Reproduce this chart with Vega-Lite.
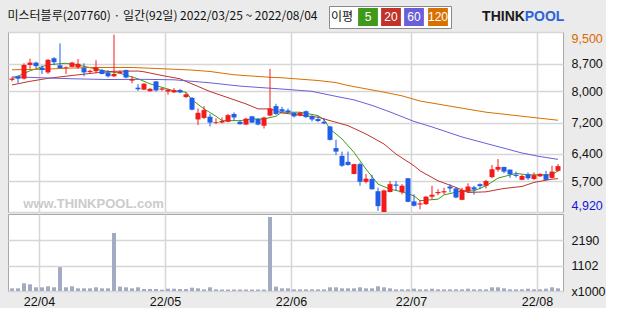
{
  "$schema": "https://vega.github.io/schema/vega-lite/v6.json",
  "background": "#ebebeb",
  "padding": {"left": 7, "top": 5, "right": 0, "bottom": 0},
  "title": {
    "text": "미스터블루(207760) · 일간(92일) 2022/03/25 ~ 2022/08/04",
    "anchor": "start",
    "font": "Noto Sans CJK KR",
    "fontSize": 12,
    "fontWeight": "normal",
    "color": "#111111",
    "offset": -18
  },
  "config": {
    "view": {"fill": "white", "stroke": "#a8a8a8", "strokeWidth": 1},
    "axis": {
      "labelFont": "Liberation Sans",
      "labelFontSize": 12.5,
      "labelColor": "#111111",
      "gridColor": "#d6d6d6",
      "gridWidth": 1.5,
      "ticks": false,
      "domain": false
    }
  },
  "resolve": {"scale": {"color": "independent"}},
  "spacing": 0,
  "datasets": {
    "candles": [
      {"i":0,"d":"03-25","o":8290,"h":8360,"l":8250,"c":8320,"v":116},
      {"i":1,"d":"03-28","o":8380,"h":8390,"l":8210,"c":8320,"v":116},
      {"i":2,"d":"03-29","o":8320,"h":8710,"l":8300,"c":8670,"v":333},
      {"i":3,"d":"03-30","o":8670,"h":8830,"l":8570,"c":8730,"v":290},
      {"i":4,"d":"03-31","o":8730,"h":8750,"l":8590,"c":8640,"v":160},
      {"i":5,"d":"04-01","o":8600,"h":8660,"l":8440,"c":8540,"v":160},
      {"i":6,"d":"04-04","o":8480,"h":8820,"l":8440,"c":8800,"v":203},
      {"i":7,"d":"04-05","o":8840,"h":8870,"l":8670,"c":8740,"v":160},
      {"i":8,"d":"04-06","o":8660,"h":9220,"l":8580,"c":8590,"v":1030},
      {"i":9,"d":"04-07","o":8590,"h":8630,"l":8440,"c":8610,"v":160},
      {"i":10,"d":"04-08","o":8620,"h":8750,"l":8610,"c":8730,"v":203},
      {"i":11,"d":"04-11","o":8610,"h":8820,"l":8570,"c":8700,"v":116},
      {"i":12,"d":"04-12","o":8590,"h":8710,"l":8380,"c":8480,"v":116},
      {"i":13,"d":"04-13","o":8490,"h":8550,"l":8460,"c":8520,"v":116},
      {"i":14,"d":"04-14","o":8510,"h":8790,"l":8460,"c":8610,"v":160},
      {"i":15,"d":"04-15","o":8540,"h":8570,"l":8430,"c":8440,"v":116},
      {"i":16,"d":"04-18","o":8480,"h":8540,"l":8350,"c":8380,"v":116},
      {"i":17,"d":"04-19","o":8380,"h":9440,"l":8360,"c":8440,"v":2510},
      {"i":18,"d":"04-20","o":8460,"h":8530,"l":8450,"c":8490,"v":190},
      {"i":19,"d":"04-21","o":8540,"h":8550,"l":8330,"c":8350,"v":160},
      {"i":20,"d":"04-22","o":8270,"h":8380,"l":8200,"c":8310,"v":116},
      {"i":21,"d":"04-25","o":8090,"h":8180,"l":8010,"c":8050,"v":160},
      {"i":22,"d":"04-26","o":8040,"h":8210,"l":8030,"c":8190,"v":87},
      {"i":23,"d":"04-27","o":8000,"h":8080,"l":7990,"c":8060,"v":87},
      {"i":24,"d":"04-28","o":8250,"h":8260,"l":7990,"c":8020,"v":87},
      {"i":25,"d":"04-29","o":8040,"h":8090,"l":8010,"c":8070,"v":58},
      {"i":26,"d":"05-02","o":7990,"h":8060,"l":7910,"c":8040,"v":100},
      {"i":27,"d":"05-03","o":7970,"h":8080,"l":7960,"c":8030,"v":100},
      {"i":28,"d":"05-04","o":8030,"h":8060,"l":7950,"c":7970,"v":87},
      {"i":29,"d":"05-06","o":7850,"h":7970,"l":7830,"c":7920,"v":87},
      {"i":30,"d":"05-09","o":7830,"h":7850,"l":7510,"c":7530,"v":145},
      {"i":31,"d":"05-10","o":7280,"h":7560,"l":7140,"c":7450,"v":116},
      {"i":32,"d":"05-11","o":7320,"h":7620,"l":7290,"c":7520,"v":72},
      {"i":33,"d":"05-12","o":7350,"h":7420,"l":7100,"c":7200,"v":160},
      {"i":34,"d":"05-13","o":7190,"h":7310,"l":7160,"c":7210,"v":72},
      {"i":35,"d":"05-16","o":7200,"h":7330,"l":7180,"c":7240,"v":65},
      {"i":36,"d":"05-17","o":7220,"h":7420,"l":7210,"c":7390,"v":65},
      {"i":37,"d":"05-18","o":7420,"h":7460,"l":7250,"c":7330,"v":65},
      {"i":38,"d":"05-19","o":7220,"h":7250,"l":7150,"c":7160,"v":65},
      {"i":39,"d":"05-20","o":7150,"h":7320,"l":7140,"c":7300,"v":65},
      {"i":40,"d":"05-23","o":7360,"h":7370,"l":7190,"c":7200,"v":65},
      {"i":41,"d":"05-24","o":7290,"h":7310,"l":7130,"c":7150,"v":65},
      {"i":42,"d":"05-25","o":7120,"h":7350,"l":7050,"c":7330,"v":65},
      {"i":43,"d":"05-26","o":7380,"h":8570,"l":7360,"c":7560,"v":3200},
      {"i":44,"d":"05-27","o":7620,"h":7680,"l":7400,"c":7420,"v":190},
      {"i":45,"d":"05-30","o":7540,"h":7600,"l":7460,"c":7480,"v":116},
      {"i":46,"d":"05-31","o":7510,"h":7560,"l":7440,"c":7460,"v":116},
      {"i":47,"d":"06-02","o":7450,"h":7460,"l":7330,"c":7360,"v":72},
      {"i":48,"d":"06-03","o":7380,"h":7470,"l":7360,"c":7450,"v":72},
      {"i":49,"d":"06-07","o":7490,"h":7510,"l":7320,"c":7340,"v":72},
      {"i":50,"d":"06-08","o":7360,"h":7400,"l":7230,"c":7280,"v":72},
      {"i":51,"d":"06-09","o":7290,"h":7360,"l":7210,"c":7240,"v":72},
      {"i":52,"d":"06-10","o":7220,"h":7310,"l":7160,"c":7180,"v":72},
      {"i":53,"d":"06-13","o":7100,"h":7120,"l":6740,"c":6760,"v":160},
      {"i":54,"d":"06-14","o":6550,"h":6760,"l":6370,"c":6460,"v":160},
      {"i":55,"d":"06-15","o":6350,"h":6460,"l":6070,"c":6100,"v":116},
      {"i":56,"d":"06-16","o":6200,"h":6460,"l":6100,"c":6120,"v":116},
      {"i":57,"d":"06-17","o":5890,"h":6150,"l":5880,"c":6140,"v":116},
      {"i":58,"d":"06-20","o":6140,"h":6180,"l":5590,"c":5690,"v":160},
      {"i":59,"d":"06-21","o":5690,"h":5890,"l":5650,"c":5770,"v":116},
      {"i":60,"d":"06-22","o":5760,"h":5870,"l":5490,"c":5500,"v":116},
      {"i":61,"d":"06-23","o":5450,"h":5540,"l":4950,"c":5070,"v":203},
      {"i":62,"d":"06-24","o":4920,"h":5490,"l":4920,"c":5470,"v":160},
      {"i":63,"d":"06-27","o":5430,"h":5710,"l":5420,"c":5630,"v":116},
      {"i":64,"d":"06-28","o":5620,"h":5710,"l":5460,"c":5590,"v":72},
      {"i":65,"d":"06-29","o":5420,"h":5630,"l":5370,"c":5590,"v":72},
      {"i":66,"d":"06-30","o":5780,"h":5790,"l":5170,"c":5180,"v":72},
      {"i":67,"d":"07-01","o":5190,"h":5370,"l":5060,"c":5080,"v":100},
      {"i":68,"d":"07-04","o":5110,"h":5230,"l":4990,"c":5140,"v":72},
      {"i":69,"d":"07-05","o":5120,"h":5330,"l":5100,"c":5310,"v":72},
      {"i":70,"d":"07-06","o":5310,"h":5590,"l":5230,"c":5360,"v":100},
      {"i":71,"d":"07-07","o":5400,"h":5500,"l":5350,"c":5430,"v":72},
      {"i":72,"d":"07-08","o":5420,"h":5540,"l":5370,"c":5450,"v":72},
      {"i":73,"d":"07-11","o":5570,"h":5630,"l":5420,"c":5520,"v":72},
      {"i":74,"d":"07-12","o":5520,"h":5540,"l":5270,"c":5290,"v":72},
      {"i":75,"d":"07-13","o":5230,"h":5540,"l":5220,"c":5480,"v":72},
      {"i":76,"d":"07-14","o":5440,"h":5650,"l":5420,"c":5570,"v":100},
      {"i":77,"d":"07-15","o":5550,"h":5590,"l":5360,"c":5490,"v":72},
      {"i":78,"d":"07-18","o":5630,"h":5650,"l":5500,"c":5580,"v":72},
      {"i":79,"d":"07-19","o":5590,"h":5740,"l":5520,"c":5710,"v":72},
      {"i":80,"d":"07-20","o":5810,"h":6120,"l":5780,"c":6010,"v":160},
      {"i":81,"d":"07-21","o":6000,"h":6270,"l":5950,"c":6070,"v":160},
      {"i":82,"d":"07-22","o":6070,"h":6070,"l":5910,"c":5950,"v":116},
      {"i":83,"d":"07-25","o":6000,"h":6010,"l":5790,"c":5880,"v":72},
      {"i":84,"d":"07-26","o":5870,"h":5950,"l":5800,"c":5840,"v":72},
      {"i":85,"d":"07-27","o":5740,"h":5870,"l":5730,"c":5840,"v":72},
      {"i":86,"d":"07-28","o":5880,"h":5930,"l":5740,"c":5780,"v":100},
      {"i":87,"d":"07-29","o":5760,"h":5930,"l":5740,"c":5860,"v":72},
      {"i":88,"d":"08-01","o":5830,"h":5910,"l":5810,"c":5890,"v":72},
      {"i":89,"d":"08-02","o":5880,"h":5970,"l":5730,"c":5740,"v":100},
      {"i":90,"d":"08-03","o":5790,"h":6100,"l":5780,"c":5950,"v":160},
      {"i":91,"d":"08-04","o":5970,"h":6140,"l":5950,"c":6090,"v":116}
    ],
    "ma": [
      {"i":0,"ma":"5","p":8316},{"i":3,"ma":"5","p":8521},{"i":6,"ma":"5","p":8675},{"i":9,"ma":"5","p":8713},
      {"i":12,"ma":"5","p":8636},{"i":15,"ma":"5","p":8529},{"i":18,"ma":"5","p":8457},{"i":21,"ma":"5","p":8316},
      {"i":23,"ma":"5","p":8189},{"i":27,"ma":"5","p":8009},{"i":29,"ma":"5","p":7976},{"i":30,"ma":"5","p":7780},
      {"i":32,"ma":"5","p":7549},{"i":34,"ma":"5","p":7362},{"i":35,"ma":"5","p":7250},{"i":38,"ma":"5","p":7250},
      {"i":40,"ma":"5","p":7293},{"i":42,"ma":"5","p":7293},{"i":44,"ma":"5","p":7362},{"i":45,"ma":"5","p":7465},
      {"i":48,"ma":"5","p":7465},{"i":51,"ma":"5","p":7378},{"i":52,"ma":"5","p":7276},{"i":53,"ma":"5","p":7037},
      {"i":55,"ma":"5","p":6782},{"i":57,"ma":"5","p":6441},{"i":59,"ma":"5","p":6014},{"i":61,"ma":"5","p":5631},
      {"i":63,"ma":"5","p":5503},{"i":65,"ma":"5","p":5434},{"i":67,"ma":"5","p":5331},{"i":68,"ma":"5","p":5208},
      {"i":71,"ma":"5","p":5247},{"i":72,"ma":"5","p":5357},{"i":75,"ma":"5","p":5459},{"i":77,"ma":"5","p":5459},
      {"i":79,"ma":"5","p":5587},{"i":81,"ma":"5","p":5784},{"i":84,"ma":"5","p":5904},{"i":86,"ma":"5","p":5868},
      {"i":88,"ma":"5","p":5868},{"i":90,"ma":"5","p":5868},{"i":91,"ma":"5","p":5971},
      {"i":0,"ma":"20","p":8160},{"i":3,"ma":"20","p":8252},{"i":6,"ma":"20","p":8329},{"i":10,"ma":"20","p":8401},
      {"i":14,"ma":"20","p":8470},{"i":17,"ma":"20","p":8508},{"i":21,"ma":"20","p":8515},{"i":22,"ma":"20","p":8495},
      {"i":25,"ma":"20","p":8401},{"i":28,"ma":"20","p":8316},{"i":33,"ma":"20","p":7992},{"i":39,"ma":"20","p":7677},
      {"i":41,"ma":"20","p":7549},{"i":43,"ma":"20","p":7549},{"i":45,"ma":"20","p":7446},{"i":51,"ma":"20","p":7337},
      {"i":53,"ma":"20","p":7250},{"i":56,"ma":"20","p":7122},{"i":59,"ma":"20","p":6909},{"i":62,"ma":"20","p":6654},
      {"i":64,"ma":"20","p":6398},{"i":67,"ma":"20","p":6099},{"i":68,"ma":"20","p":5971},{"i":71,"ma":"20","p":5715},
      {"i":74,"ma":"20","p":5546},{"i":76,"ma":"20","p":5418},{"i":79,"ma":"20","p":5434},{"i":82,"ma":"20","p":5520},
      {"i":85,"ma":"20","p":5571},{"i":87,"ma":"20","p":5674},{"i":90,"ma":"20","p":5758},{"i":91,"ma":"20","p":5770},
      {"i":0,"ma":"60","p":8367},{"i":5,"ma":"60","p":8342},{"i":10,"ma":"60","p":8317},{"i":16,"ma":"60","p":8298},
      {"i":22,"ma":"60","p":8303},{"i":27,"ma":"60","p":8291},{"i":33,"ma":"60","p":8214},{"i":38,"ma":"60","p":8130},
      {"i":45,"ma":"60","p":8055},{"i":50,"ma":"60","p":7997},{"i":54,"ma":"60","p":7869},{"i":57,"ma":"60","p":7779},
      {"i":60,"ma":"60","p":7639},{"i":63,"ma":"60","p":7472},{"i":67,"ma":"60","p":7229},{"i":70,"ma":"60","p":7089},
      {"i":75,"ma":"60","p":6833},{"i":80,"ma":"60","p":6628},{"i":85,"ma":"60","p":6424},{"i":88,"ma":"60","p":6334},
      {"i":91,"ma":"60","p":6262},
      {"i":0,"ma":"120","p":8547},{"i":5,"ma":"120","p":8559},{"i":9,"ma":"120","p":8585},{"i":13,"ma":"120","p":8605},
      {"i":20,"ma":"120","p":8605},{"i":24,"ma":"120","p":8580},{"i":30,"ma":"120","p":8539},{"i":33,"ma":"120","p":8503},
      {"i":37,"ma":"120","p":8419},{"i":43,"ma":"120","p":8355},{"i":45,"ma":"120","p":8342},{"i":51,"ma":"120","p":8273},
      {"i":54,"ma":"120","p":8220},{"i":56,"ma":"120","p":8145},{"i":62,"ma":"120","p":7976},{"i":65,"ma":"120","p":7882},
      {"i":68,"ma":"120","p":7750},{"i":74,"ma":"120","p":7593},{"i":79,"ma":"120","p":7465},{"i":85,"ma":"120","p":7362},
      {"i":91,"ma":"120","p":7260}
    ]
  },
  "vconcat": [
    {
      "width": 555,
      "height": 180,
      "resolve": {"axis": {"x": "independent", "y": "independent"}},
      "layer": [
        {
          "data": {"name": "ma"},
          "mark": {"type": "square", "size": 0},
          "encoding": {
            "x": {"field": "i", "type": "quantitative", "axis": null},
            "y": {"field": "p", "type": "quantitative", "axis": null},
            "color": {
              "field": "ma", "type": "nominal",
              "scale": {"domain": ["5", "20", "60", "120"], "range": ["#3f9a1a", "#c0322a", "#6a5fd8", "#d87000"]},
              "legend": {
                "orient": "none", "legendX": 321, "legendY": -26, "direction": "horizontal",
                "title": "이평", "titleOrient": "left", "titleFont": "Noto Sans CJK KR",
                "titleFontSize": 12, "titleFontWeight": "normal", "titleColor": "#111111", "titlePadding": 5,
                "symbolType": "M-1.1,-1L1.1,-1L1.1,1L-1.1,1Z", "symbolSize": 324,
                "symbolStrokeWidth": 0, "symbolOpacity": 1,
                "labelColor": "white", "labelFont": "Liberation Sans", "labelFontSize": 12,
                "labelAlign": "center", "labelOffset": -9, "columnPadding": 3,
                "fillColor": "white", "strokeColor": "#8a8a8a", "padding": 2
              }
            }
          }
        },
        {
          "data": {"name": "ma"},
          "mark": {"type": "line", "strokeWidth": 1},
          "encoding": {
            "x": {
              "field": "i", "type": "quantitative",
              "scale": {"domain": [-0.667, 91.833], "nice": false, "zero": false, "padding": 0},
              "axis": {
                "orient": "top", "labels": false, "grid": false,
                "title": "THINK", "titleX": 495, "titleY": -16,
                "titleAlign": "center", "titleBaseline": "middle", "titleAngle": 0,
                "titleFont": "Liberation Sans", "titleFontSize": 14, "titleFontWeight": "bold",
                "titleColor": "#1a1a1a"
              }
            },
            "y": {
              "field": "p", "type": "quantitative",
              "scale": {"domain": [4920, 9510], "nice": false, "zero": false, "padding": 0},
              "axis": {
                "orient": "right",
                "values": [9500, 8700, 8000, 7200, 6400, 5700, 4920],
                "format": ",d",
                "labelFlush": true,
                "labelPadding": 8,
                "grid": true,
                "labelColor": {"expr": "datum.value == 9500 ? '#d96a00' : datum.value == 4920 ? '#1414dc' : '#111111'"},
                "title": "POOL", "titleX": -19, "titleY": -16, "titleAngle": 0,
                "titleAlign": "center", "titleBaseline": "middle",
                "titleFont": "Liberation Sans", "titleFontSize": 14, "titleFontWeight": "bold",
                "titleColor": "#2f63d6"
              }
            },
            "color": {"field": "ma", "type": "nominal"}
          }
        },
        {
          "data": {"name": "candles"},
          "mark": {"type": "rule", "strokeWidth": 1},
          "encoding": {
            "x": {
              "field": "i", "type": "quantitative",
              "axis": {
                "values": [4.5, 25.5, 46.5, 66.5, 87.5], "labels": false, "grid": true,
                "title": "www.THINKPOOL.com", "titleX": 85, "titleY": -9,
                "titleAlign": "center", "titleBaseline": "middle",
                "titleFont": "Liberation Sans", "titleFontSize": 13, "titleFontWeight": "bold",
                "titleColor": "#cbcbcb"
              }
            },
            "y": {"field": "l", "type": "quantitative", "axis": null},
            "y2": {"field": "h"},
            "color": {"condition": {"test": "datum.c >= datum.o", "value": "#f41a1a"}, "value": "#1e5ee8"}
          }
        },
        {
          "data": {"name": "candles"},
          "mark": {"type": "bar", "size": 5},
          "encoding": {
            "x": {"field": "i", "type": "quantitative", "axis": null},
            "y": {"field": "o", "type": "quantitative", "axis": null},
            "y2": {"field": "c"},
            "color": {"condition": {"test": "datum.c >= datum.o", "value": "#f41a1a"}, "value": "#1e5ee8"}
          }
        }
      ]
    },
    {
      "width": 555,
      "height": 77,
      "data": {"name": "candles"},
      "mark": {"type": "bar", "size": 4, "color": "#a2abc2"},
      "encoding": {
        "x": {
          "field": "i", "type": "quantitative",
          "scale": {"domain": [-0.667, 91.833], "nice": false, "zero": false, "padding": 0},
          "axis": {
            "values": [4.5, 25.5, 46.5, 66.5, 87.5],
            "labelExpr": "datum.value < 10 ? '22/04' : datum.value < 30 ? '22/05' : datum.value < 50 ? '22/06' : datum.value < 70 ? '22/07' : '22/08'",
            "labelPadding": 4, "labelFlush": false, "grid": true, "title": null
          }
        },
        "y": {
          "field": "v", "type": "quantitative",
          "scale": {"domain": [0, 3330], "nice": false, "padding": 0},
          "axis": {
            "orient": "right", "values": [0, 1102, 2190],
            "labelExpr": "datum.value == 0 ? 'x1000' : datum.value",
            "labelPadding": 8, "grid": true, "title": null
          }
        }
      }
    }
  ]
}
